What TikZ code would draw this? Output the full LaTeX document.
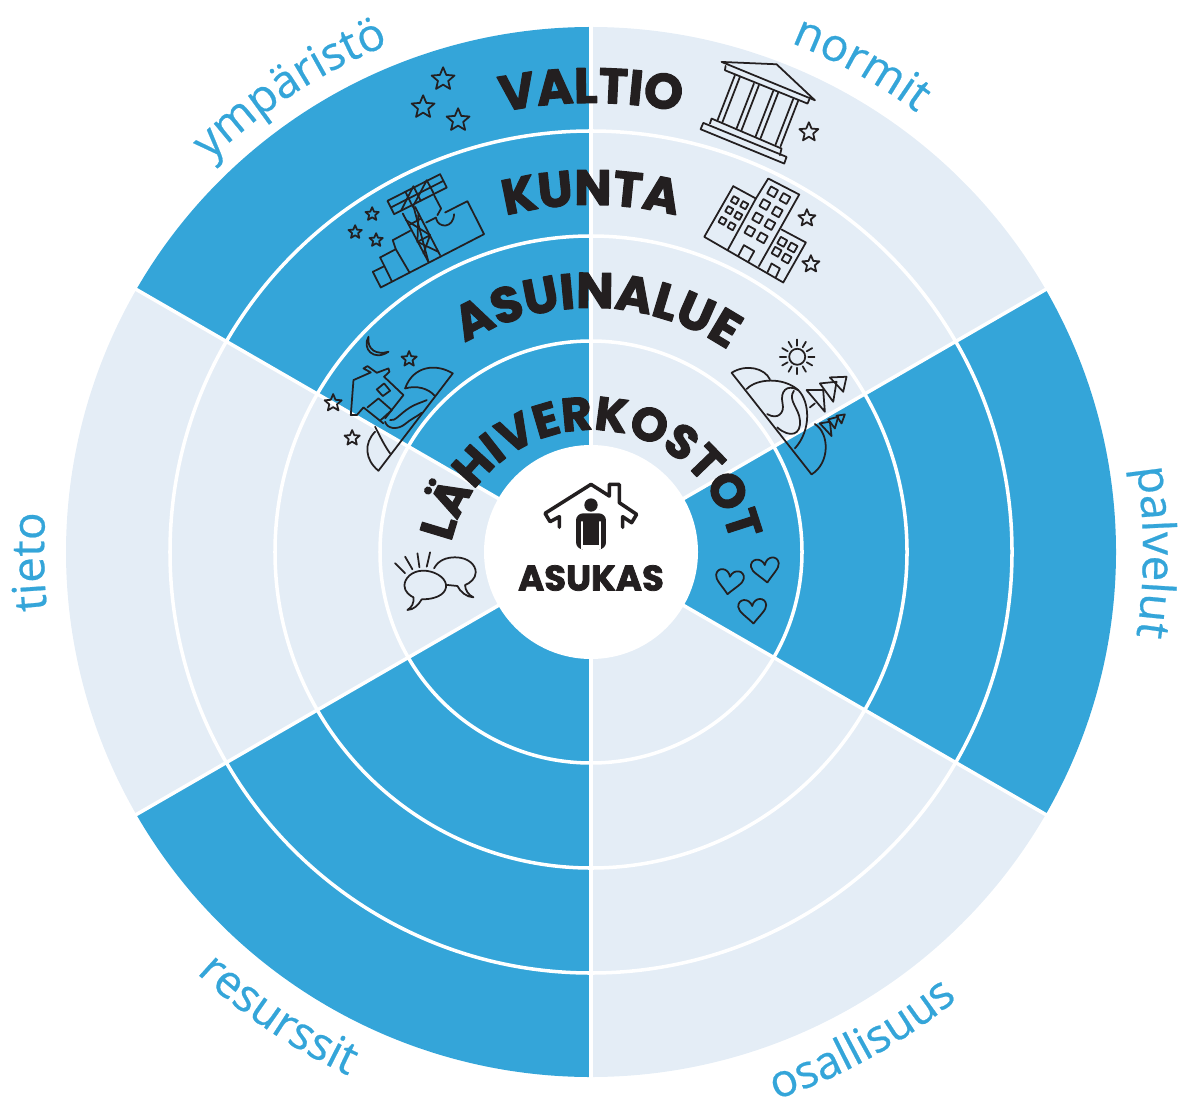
\documentclass[tikz,border=0pt]{standalone}
\usepackage{fontspec}
\usepackage{xcolor}
\usetikzlibrary{decorations.text,calc}
\newfontfamily\RingFont[UprightFont=* Bold,FakeBold=2.2]{Poppins}
\newfontfamily\AspectFont[FakeBold=0.5]{Open Sans}
\definecolor{SectorBlue}{HTML}{34A5D9}
\definecolor{SectorPale}{HTML}{E4EDF6}
\definecolor{IconInk}{HTML}{231F20}
\newcommand{\RingText}[6]{
  \path [decorate,decoration={text along path,text align=center,
    text={|\RingFont\fontsize{#5}{16}\selectfont\color{IconInk}|#6}}]
    ($(#1)+(#3:#2)$) arc [start angle=#3,end angle=#4,radius=#2];
}
\newcommand{\AspectText}[4]{
  \path [decorate,decoration={text along path,text align=center,
    text={|\AspectFont\fontsize{13}{16}\selectfont\color{SectorBlue}|#4}}]
    (#2:#1) arc [start angle=#2,end angle=#3,radius=#1];
}
\newcommand{\MiniStar}[3]{
  \draw [icon,shift={(#1,#2)}] (-90:#3) -- (-54:#3*0.45) -- (-18:#3) -- (18:#3*0.45) -- (54:#3)
    -- (90:#3*0.45) -- (126:#3) -- (162:#3*0.45) -- (198:#3) -- (234:#3*0.45) -- cycle;
}
\newcommand{\WindowBox}[3]{
  \draw [icon,shift={(#1,#2)},rotate=-29] (-#3,-#3) rectangle (#3,#3);
}
\newcommand{\HeartIcon}[3]{
  \draw [icon,shift={(#1,#2)},rotate=#3] (0,38) .. controls (-20,15) and (-42,0) .. (-42,-15)
    .. controls (-42,-40) and (-8,-42) .. (0,-15) .. controls (8,-42) and (42,-40) .. (42,-15)
    .. controls (42,0) and (20,15) .. (0,38);
}
\tikzset{
  icon/.style={draw=IconInk,line width=0.5pt,line join=round,line cap=round},
  divider/.style={draw=white,line width=1pt},
  pixels/.style={x=0.01cm,y=-0.01cm,shift={(-591,-552)}},
}
\begin{document}
\begin{tikzpicture}[line cap=round,line join=round]
  \useasboundingbox (-5.91,-5.48) rectangle (5.88,5.52);
  \foreach \a/\c in {30/SectorPale,90/SectorBlue,150/SectorPale,210/SectorBlue,270/SectorPale,330/SectorBlue}
    \fill [color=\c] (0,0) -- (\a:5.25) arc [start angle=\a,end angle=\a+60,radius=5.25] -- cycle;
  \foreach \r in {2.11,3.16,4.21}
    \draw [divider] (0,0) circle (\r);
  \foreach \a in {30,90,150,210,270,330}
    \draw [divider,line cap=butt] (0,0) -- (\a:5.26);
  \fill [white] (0,0) circle (1.07);

  % pixel frame of the reference, for the icons
  \begin{scope}[pixels]
    \MiniStar{443}{79}{12}
    \MiniStar{423}{107}{12}
    \MiniStar{458}{120}{12}
    \MiniStar{372}{214}{7}
    \MiniStar{355}{232}{7}
    \MiniStar{376}{240}{7}
    \MiniStar{809}{132}{10}
    \MiniStar{807}{218}{9}
    \MiniStar{811}{264}{9}
    \MiniStar{409}{359}{8}
    \MiniStar{333}{403}{9}
    \MiniStar{352}{438}{8}

    % crane
    \begin{scope}[shift={(330,50)},scale=1/3]
      \draw [icon] (128,665) -- (152,712) -- (462,552) -- (412,453) -- (345,487);
      \draw [icon] (128,665) -- (163,648) -- (185,693);
      \draw [icon] (150,622) -- (197,597) -- (237,665);
      \draw [icon] (150,622) -- (163,648);
      \draw [icon] (188,570) -- (240,542);
      \draw [icon] (188,570) -- (197,597);
      \draw [icon] (172,452) -- (330,372) -- (350,412) -- (192,492) -- cycle;
      \draw [icon] (182,472) -- (340,392);
      \draw [icon] (213,481) -- (250,408) -- (272,452);
      \draw [icon] (226,425) -- (248,470) -- (290,390) -- (312,432);
      \draw [icon] (218,490) -- (295,635);
      \draw [icon] (255,470) -- (330,615);
      \draw [icon] (250,468) -- (295,635);
      \draw [icon] (236,525) -- (273,505);
      \draw [icon] (262,575) -- (300,555);
      \draw [icon] (228,510) -- (300,555) -- (280,610);
      \draw [icon] (265,490) -- (262,575) -- (325,605);
      \draw [icon] (312,435) -- (333,475) -- (322,495);
      \draw [icon] (318,502) -- (288,517);
      \draw [icon] (318,505) .. controls (325,535) and (370,535) .. (372,492);
    \end{scope}

    % temple and blocks
    \begin{scope}[shift={(680,50)},scale=1/3]
      \draw [icon] (125,35) -- (290,42) -- (405,150) -- cycle;
      \draw [icon] (137,47) -- (135,60) -- (383,160) -- (388,148);
      \foreach \x/\y in {165/75,222/100,280/122,340/146} {
        \draw [icon] (\x,\y) -- ++(-53,137);
        \draw [icon] (\x+15,\y+5) -- ++(-53,137);
      }
      \draw [icon] (95,205) -- (90,220);
      \draw [icon] (95,205) -- (305,295) -- (300,315);
      \draw [icon] (70,218) -- (320,320) -- (313,340) -- (62,237) -- cycle;

      \draw [icon] (160,408) -- (73,560) -- (310,697) -- (378,577) -- (305,538);
      \draw [icon] (160,408) -- (228,445) -- (143,600);
      \draw [icon] (228,445) -- (265,385) -- (358,433) -- (237,648);
      \draw [icon] (175,617) -- (192,585) -- (223,603) -- (205,635);
      \draw [icon] (262,668) -- (275,640) -- (300,655) -- (287,683);
      \foreach \x/\y in {278/425,315/445,255/463,292/485,233/503,270/523,210/543,247/563} {
        \WindowBox{\x}{\y}{12}
      }
      \foreach \x/\y in {165/450,193/465,148/480,175/497,128/512,155/528} {
        \WindowBox{\x}{\y}{9}
      }
      \foreach \x/\y in {307/575,338/592,290/605,320/625} {
        \WindowBox{\x}{\y}{11}
      }
    \end{scope}

    % night house and speech bubbles
    \begin{scope}[shift={(310,320)},scale=1/3]
      \draw [icon] (175,50) .. controls (155,85) and (190,125) .. (235,95) .. controls (200,105) and (170,90) .. (175,50);
      \draw [icon] (140,285) -- (122,285) -- (130,180) -- (182,157) -- (160,145) -- (172,138) -- (200,158)
        -- (235,145) -- (238,155) -- (222,170) -- (280,225) -- (225,295);
      \draw [icon] (140,285) -- (160,262) -- (220,310);
      \draw [icon] (200,208) -- (222,190) -- (240,212) -- (218,228) -- cycle;
      \draw [icon] (172,262) -- (205,235) -- (245,270) -- (212,300);
      \draw [icon] (428,160) -- (205,452);
      \draw [icon] (428,160) .. controls (380,130) and (310,135) .. (285,205);
      \draw [icon] (285,205) .. controls (320,195) and (355,205) .. (375,228);
      \draw [icon] (205,452) .. controls (165,420) and (160,370) .. (195,335);
      \draw [icon] (195,320) .. controls (210,350) and (225,380) .. (240,400);
      \draw [icon] (240,300) .. controls (255,305) and (270,280) .. (300,262) .. controls (320,250) and (340,245) .. (350,240);
      \draw [icon] (225,305) .. controls (230,325) and (260,332) .. (285,312) .. controls (300,298) and (320,290) .. (335,278);
      \draw [icon] (255,730) -- (285,760);
      \draw [icon] (285,710) -- (307,748);
      \draw [icon] (322,700) -- (328,742);
      \draw [icon] (360,697) -- (350,740);
      \draw [icon] (335,838) .. controls (390,838) and (410,815) .. (408,795) .. controls (405,770) and (370,752) .. (340,752)
        .. controls (305,752) and (283,775) .. (283,797) .. controls (283,815) and (300,828) .. (310,832)
        .. controls (312,850) and (305,862) .. (292,870) .. controls (310,870) and (325,855) .. (335,838);
      \draw [icon] (372,745) .. controls (385,720) and (410,712) .. (435,712) .. controls (475,712) and (497,735) .. (497,757)
        .. controls (497,775) and (480,790) .. (465,795) .. controls (465,810) and (475,825) .. (490,832)
        .. controls (470,832) and (450,815) .. (442,798) -- (412,795);
    \end{scope}

    % sunny hills, trees and hearts
    \begin{scope}[shift={(690,320)},scale=1/3]
      \draw [icon] (322,110) circle (24);
      \foreach \a in {0,30,...,330}
        \draw [icon] (\a:33) ++(322,110) -- ++(\a:19);
      \draw [icon] (125,158) -- (365,463);
      \draw [icon] (125,158) .. controls (170,130) and (225,145) .. (240,178);
      \draw [icon] (170,207) .. controls (200,175) and (280,170) .. (325,210) .. controls (360,245) and (365,330) .. (315,385);
      \draw [icon] (365,463) .. controls (420,430) and (420,340) .. (375,312);
      \draw [icon] (232,282) .. controls (262,300) and (285,280) .. (278,250) .. controls (270,215) and (290,190) .. (325,210);
      \draw [icon] (262,322) .. controls (300,355) and (335,345) .. (330,300) .. controls (328,265) and (292,240) .. (312,212);
      \draw [icon] (470,170) -- (420,172) -- (460,215) -- cycle;
      \draw [icon] (440,185) -- (390,190) -- (430,245) -- cycle;
      \draw [icon] (400,210) -- (350,210) -- (405,275) -- cycle;
      \draw [icon] (360,262) -- (375,250);
      \draw [icon] (465,283) -- (440,287) -- (455,310) -- cycle;
      \draw [icon] (445,290) -- (415,298) -- (435,325) -- cycle;
      \draw [icon] (420,305) -- (390,310) -- (425,348) -- cycle;
      \HeartIcon{118}{785}{-8}
      \HeartIcon{227}{750}{8}
      \HeartIcon{188}{873}{4}
    \end{scope}

    % person under the roof
    \begin{scope}[shift={(490,450)},scale=1/3]
      \draw [icon,line width=1pt] (208,232) -- (208,200) -- (180,215) -- (165,190) -- (303,103) -- (358,138) -- (358,103)
        -- (388,103) -- (388,158) -- (440,193) -- (425,218) -- (398,200) -- (398,232);
      \fill [IconInk] (303,165) circle (20);
      \fill [IconInk,rounded corners=2pt] (258,190) rectangle (348,298);
      \fill [white] (278,284) rectangle (328,300);
      \draw [white,line width=0.3pt] (276,215) -- (276,296);
      \draw [white,line width=0.3pt] (330,215) -- (330,296);
    \end{scope}
  \end{scope}

  \node (asukas) at (0,-0.26) {\RingFont\fontsize{10.1}{12}\selectfont\color{IconInk}ASUKAS};

  \RingText{0,0}{4.49}{150}{30}{14.1}{VALTIO}
  \RingText{0,0}{3.47}{150}{30}{14.1}{KUNTA}
  \RingText{0,0}{2.44}{148.5}{28.5}{14.2}{ASUINALUE}
  \RingText{0,-0.21}{1.43}{180}{0}{13.4}{LÄHIVERKOSTOT}

  \AspectText{5.47}{91}{31}{normit}
  \AspectText{5.46}{153}{93}{ympäristö}
  \AspectText{5.52}{30}{-30}{palvelut}
  \AspectText{5.47}{211}{151}{tieto}
  \AspectText{5.78}{-91}{-31}{osallisuus}
  \AspectText{5.77}{-154}{-94}{resurssit}
\end{tikzpicture}
\end{document}
